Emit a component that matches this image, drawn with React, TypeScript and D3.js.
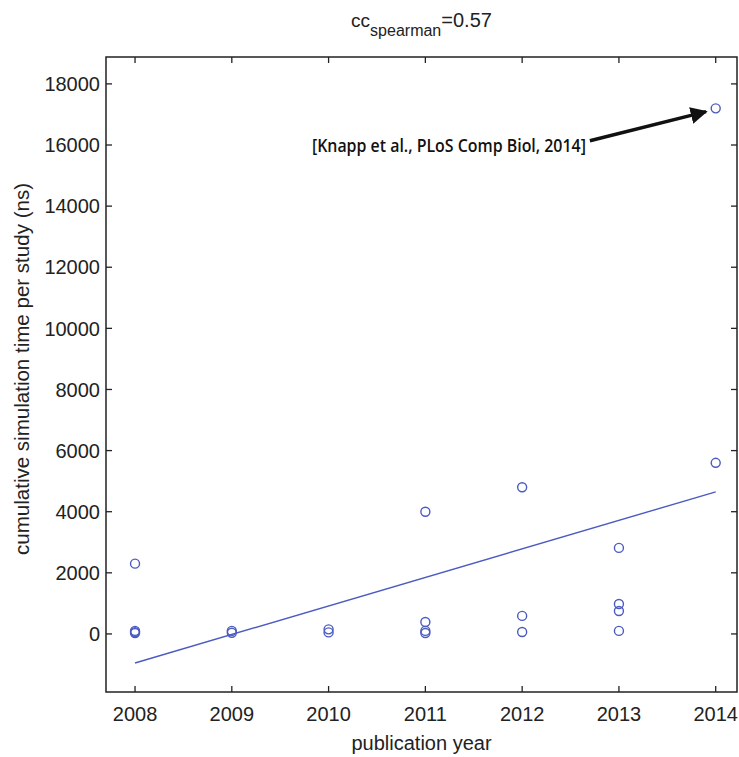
import { useEffect, useRef } from 'react'
import * as d3 from 'd3'

// publication year / cumulative simulation time (ns), one entry per study
const years = [2008, 2008, 2008, 2008, 2009, 2009, 2010, 2010, 2011, 2011, 2011, 2011, 2012, 2012, 2012, 2013, 2013, 2013, 2013, 2014, 2014]
const simTimes = [2300, 100, 60, 30, 100, 40, 150, 50, 4000, 390, 100, 30, 4800, 590, 65, 2815, 980, 750, 100, 17200, 5600]

// linear fit line endpoints
const fitYears = [2008, 2014]
const fitValues = [-950, 4650]

const xTicks = [2008, 2009, 2010, 2011, 2012, 2013, 2014]
const yTicks = [0, 2000, 4000, 6000, 8000, 10000, 12000, 14000, 16000, 18000]

const noteText = '[Knapp et al., PLoS Comp Biol, 2014]'
const noteTail = [2012.7, 16140]
const noteHead = [2013.9, 17090]

const App = () => {
  const width = 739
  const height = 757
  const margin = { top: 57, right: 2, bottom: 65, left: 106 }

  const svgRef = useRef()

  useEffect(() => {
    const svg = d3.select(svgRef.current)
    svg.selectAll('*').remove()

    const xScale = d3.scaleLinear()
      .domain([2007.7, 2014.22])
      .range([margin.left, width - margin.right])

    const yScale = d3.scaleLinear()
      .domain([-1900, 18880])
      .range([height - margin.bottom, margin.top])

    const blue = '#4b5bc2'
    const font = 'Liberation Sans, Arial, sans-serif'
    const x0 = margin.left
    const x1 = width - margin.right
    const y0 = height - margin.bottom
    const y1 = margin.top

    // box
    svg.append('rect')
      .attr('x', x0)
      .attr('y', y1)
      .attr('width', x1 - x0)
      .attr('height', y0 - y1)
      .attr('fill', 'white')
      .attr('stroke', '#222')
      .attr('stroke-width', 1.5)

    // ticks (inward, all four sides)
    xTicks.forEach(t => {
      const x = xScale(t)
      svg.append('line').attr('x1', x).attr('x2', x).attr('y1', y0).attr('y2', y0 - 6).attr('stroke', '#222').attr('stroke-width', 1.3)
      svg.append('line').attr('x1', x).attr('x2', x).attr('y1', y1).attr('y2', y1 + 6).attr('stroke', '#222').attr('stroke-width', 1.3)
      svg.append('text')
        .attr('x', x)
        .attr('y', y0 + 29)
        .attr('text-anchor', 'middle')
        .style('font-family', font)
        .style('font-size', '20px')
        .style('fill', '#222')
        .text(t)
    })
    yTicks.forEach(t => {
      const y = yScale(t)
      svg.append('line').attr('x1', x0).attr('x2', x0 + 6).attr('y1', y).attr('y2', y).attr('stroke', '#222').attr('stroke-width', 1.3)
      svg.append('line').attr('x1', x1).attr('x2', x1 - 6).attr('y1', y).attr('y2', y).attr('stroke', '#222').attr('stroke-width', 1.3)
      svg.append('text')
        .attr('x', x0 - 6)
        .attr('y', y)
        .attr('dy', '0.36em')
        .attr('text-anchor', 'end')
        .style('font-family', font)
        .style('font-size', '20px')
        .style('fill', '#222')
        .text(t)
    })

    // fit line
    const line = d3.line()
      .x(d => xScale(d[0]))
      .y(d => yScale(d[1]))
    svg.append('path')
      .datum(fitYears.map((y, i) => [y, fitValues[i]]))
      .attr('fill', 'none')
      .attr('stroke', blue)
      .attr('stroke-width', 1.4)
      .attr('d', line)

    // data points
    svg.selectAll('circle.pt')
      .data(years.map((y, i) => [y, simTimes[i]]))
      .join('circle')
      .attr('class', 'pt')
      .attr('cx', d => xScale(d[0]))
      .attr('cy', d => yScale(d[1]))
      .attr('r', 4.5)
      .attr('fill', 'none')
      .attr('stroke', blue)
      .attr('stroke-width', 1.4)

    // annotation
    svg.append('defs').append('marker')
      .attr('id', 'arrowhead')
      .attr('viewBox', '0 0 10 10')
      .attr('refX', 9)
      .attr('refY', 5)
      .attr('markerWidth', 5)
      .attr('markerHeight', 5)
      .attr('markerUnits', 'strokeWidth')
      .attr('orient', 'auto')
      .append('path')
      .attr('d', 'M0,0 L10,5 L0,10 z')
      .attr('fill', '#111')

    svg.append('line')
      .attr('x1', xScale(noteTail[0]))
      .attr('y1', yScale(noteTail[1]))
      .attr('x2', xScale(noteHead[0]))
      .attr('y2', yScale(noteHead[1]))
      .attr('stroke', '#111')
      .attr('stroke-width', 3.4)
      .attr('marker-end', 'url(#arrowhead)')

    svg.append('text')
      .attr('x', xScale(noteTail[0]) - 278)
      .attr('y', yScale(noteTail[1]) + 11)
      .attr('textLength', 274)
      .attr('lengthAdjust', 'spacingAndGlyphs')
      .style('font-family', 'Open Sans, sans-serif')
      .style('font-weight', 600)
      .style('font-size', '18px')
      .style('fill', '#111')
      .text(noteText)

    // axis titles
    svg.append('text')
      .attr('x', (x0 + x1) / 2)
      .attr('y', height - 7)
      .attr('text-anchor', 'middle')
      .style('font-family', font)
      .style('font-size', '20px')
      .style('fill', '#222')
      .text('publication year')

    svg.append('text')
      .attr('transform', 'rotate(-90)')
      .attr('x', -369)
      .attr('y', 29)
      .attr('text-anchor', 'middle')
      .attr('textLength', 372)
      .attr('lengthAdjust', 'spacingAndGlyphs')
      .style('font-family', font)
      .style('font-size', '20px')
      .style('fill', '#222')
      .text('cumulative simulation time per study (ns)')

    // title
    const title = svg.append('text')
      .attr('x', (x0 + x1) / 2)
      .attr('y', 27)
      .attr('text-anchor', 'middle')
      .style('font-family', font)
      .style('fill', '#222')
    title.append('tspan').style('font-size', '19px').text('cc')
    title.append('tspan').attr('dy', 9).style('font-size', '16px').text('spearman')
    title.append('tspan').attr('dy', -9).style('font-size', '20px').text('=0.57')
  }, [])

  return (
    <svg ref={svgRef} width={width} height={height} style={{ position: 'absolute', left: 0, top: 0, background: 'white' }}></svg>
  )
}

export default App
